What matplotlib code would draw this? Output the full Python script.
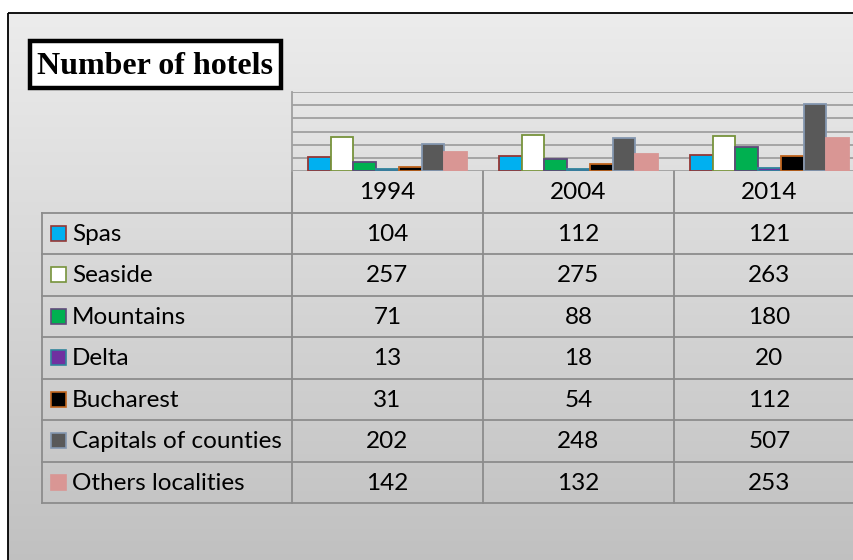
import numpy as np
import matplotlib
matplotlib.use("Agg")
import matplotlib.pyplot as plt
from matplotlib.patches import Rectangle

years = ["1994", "2004", "2014"]
series = ["Spas", "Seaside", "Mountains", "Delta", "Bucharest",
          "Capitals of counties", "Others localities"]
spas = [104, 112, 121]
seaside = [257, 275, 263]
mountains = [71, 88, 180]
delta = [13, 18, 20]
bucharest = [31, 54, 112]
capitals = [202, 248, 507]
others = [142, 132, 253]
values = [spas, seaside, mountains, delta, bucharest, capitals, others]

fills = ['#00b0f0', '#ffffff', '#00b050', '#7030a0', '#000000', '#595959', '#d99694']
edges = ['#953735', '#77933c', '#5f497a', '#31859c', '#c0651e', '#8497b0', '#d99694']

W, H = 854, 560
fig = plt.figure(figsize=(W / 100, H / 100), dpi=100)
fig.patch.set_facecolor('white')

# background gradient panel
bg = fig.add_axes([0, 0, 1, 1])
bg.set_xlim(0, W)
bg.set_ylim(H, 0)
bg.axis('off')
grad = np.linspace(0, 1, 256).reshape(-1, 1)
cmap = matplotlib.colors.LinearSegmentedColormap.from_list('g', ['#ececec', '#bfbfbf'])
bg.imshow(grad, cmap=cmap, extent=[8, W + 20, H + 20, 13], aspect='auto', zorder=0)
bg.add_patch(Rectangle((8, 13), W + 20, H + 20, fill=False, ec='black', lw=1.3, zorder=1))

# title box
bg.add_patch(Rectangle((30, 41), 251, 47, fc='white', ec='black', lw=3.2, zorder=2))
bg.text(155, 66, "Number of hotels", ha='center', va='center', fontsize=23,
        fontweight='bold', family='Liberation Serif', zorder=3)

# table
x0, xl, cw = 42, 292, 191
top_h, row_h = 171, 41.5
grid_c = '#8c8c8c'
fs = 17.5
ncol = len(years)
xr = xl + cw * ncol
hdr_bot = top_h + row_h
for j in range(ncol + 1):
    bg.plot([xl + j * cw] * 2, [top_h, hdr_bot + row_h * len(series)], color=grid_c, lw=1.3, zorder=2)
bg.plot([x0, x0], [hdr_bot, hdr_bot + row_h * len(series)], color=grid_c, lw=1.3, zorder=2)
for i in range(len(series) + 1):
    y = hdr_bot + i * row_h
    bg.plot([x0, xr], [y, y], color=grid_c, lw=1.3, zorder=2)
for j, yr in enumerate(years):
    bg.text(xl + (j + 0.5) * cw, top_h + row_h / 2 + 1, yr, ha='center', va='center',
            fontsize=fs, family='Lato', zorder=3)
for i, name in enumerate(series):
    yc = hdr_bot + (i + 0.5) * row_h
    bg.add_patch(Rectangle((51, yc - 7.5), 15, 15, fc=fills[i], ec=edges[i], lw=1.2, zorder=3))
    bg.text(72, yc + 1, name, ha='left', va='center', fontsize=fs, family='Lato', zorder=3)
    for j in range(ncol):
        bg.text(xl + (j + 0.5) * cw, yc + 1, str(values[i][j]), ha='center', va='center',
                fontsize=fs, family='Lato', zorder=3)

# bar chart
ax = fig.add_axes([xl / W, (H - top_h) / H, (xr - xl) / W, (top_h - 92) / H])
ax.set_facecolor('none')
ax.set_xlim(-0.5, ncol - 0.5)
ax.set_ylim(0, 600)
ax.set_yticks(np.arange(0, 601, 100))
ax.yaxis.grid(True, color='#a0a0a0', lw=1.3)
ax.set_axisbelow(True)
ax.tick_params(left=False, bottom=False, labelleft=False, labelbottom=False)
for s in ['top', 'right', 'bottom']:
    ax.spines[s].set_visible(False)
ax.spines['left'].set_color('#a0a0a0')
ax.spines['left'].set_linewidth(1.3)
bw = 0.119
x = np.arange(ncol)
for i in range(len(series)):
    ax.bar(x + (i - 3) * bw, values[i], bw, color=fills[i], edgecolor=edges[i], linewidth=1.3, zorder=3)

fig.savefig('out.png', dpi=100)
